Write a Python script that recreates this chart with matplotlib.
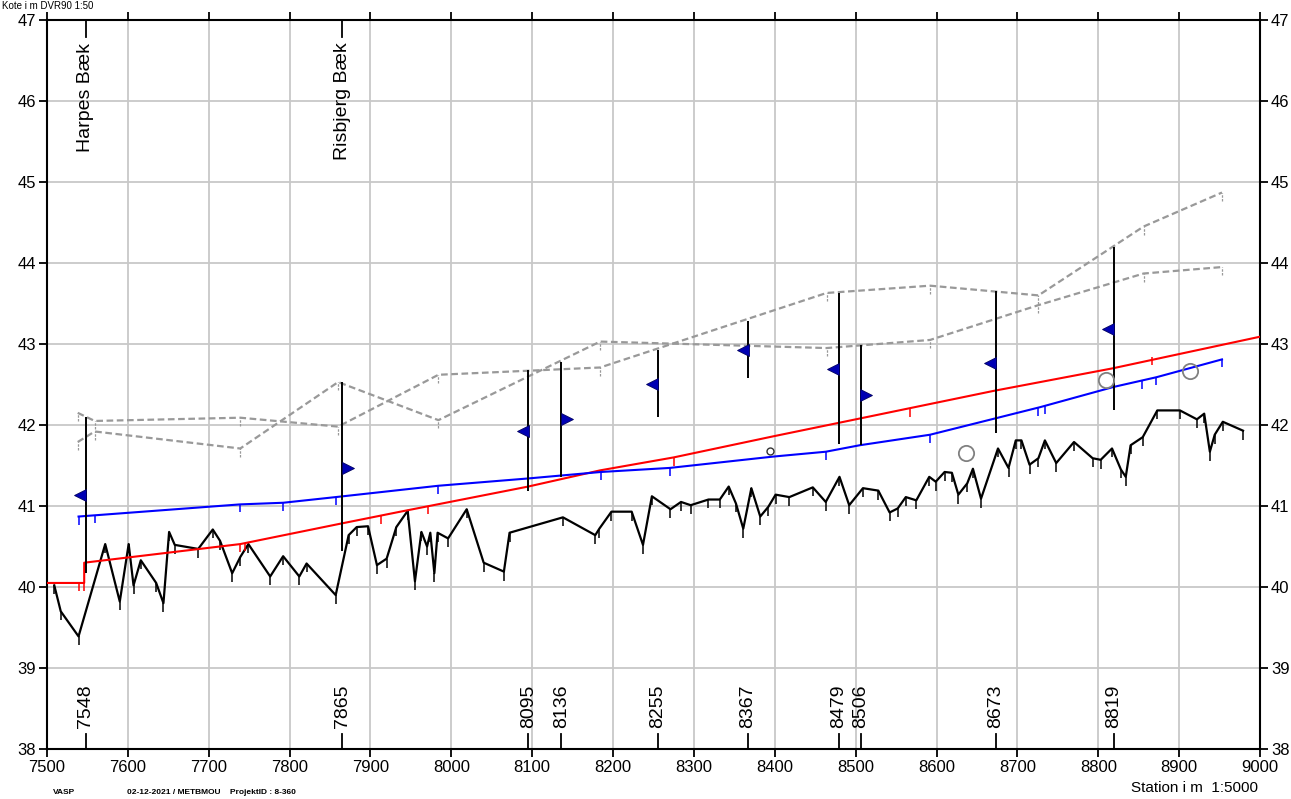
import numpy as np
import matplotlib.pyplot as plt
import matplotlib.transforms as mtransforms

plt.rcParams['font.family'] = ['Liberation Sans', 'DejaVu Sans']

# terraen (station, kote)
ground_s = [7509, 7517, 7539, 7572, 7590, 7601, 7607, 7616, 7635, 7644, 7651, 7658, 7687, 7705, 7714,
            7729, 7739, 7749, 7776, 7792, 7812, 7821, 7857, 7873, 7883, 7897, 7908, 7920, 7932, 7946,
            7955, 7963, 7970, 7974, 7979, 7983, 7996, 8019, 8040, 8065, 8072, 8138, 8178, 8183, 8198,
            8223, 8237, 8248, 8271, 8284, 8296, 8318, 8332, 8343, 8352, 8361, 8371, 8382, 8392, 8401,
            8418, 8447, 8463, 8480, 8492, 8509, 8528, 8542, 8552, 8562, 8575, 8591, 8599, 8610, 8619,
            8627, 8638, 8645, 8655, 8676, 8689, 8698, 8705, 8715, 8726, 8734, 8748, 8770, 8793, 8803,
            8817, 8828, 8834, 8840, 8855, 8873, 8901, 8922, 8931, 8938, 8944, 8954, 8979]
ground_z = [40.02, 39.70, 39.39, 40.53, 39.82, 40.53, 40.02, 40.33, 40.05, 39.80, 40.68, 40.52, 40.47, 40.71, 40.57,
            40.17, 40.37, 40.53, 40.13, 40.38, 40.13, 40.29, 39.90, 40.64, 40.74, 40.75, 40.27, 40.35, 40.74, 40.94,
            40.07, 40.68, 40.50, 40.67, 40.17, 40.67, 40.60, 40.96, 40.30, 40.19, 40.67, 40.86, 40.64, 40.72, 40.93,
            40.93, 40.52, 41.12, 40.96, 41.05, 41.01, 41.08, 41.08, 41.24, 41.03, 40.72, 41.22, 40.87, 40.99, 41.14,
            41.11, 41.23, 41.05, 41.36, 41.01, 41.22, 41.19, 40.92, 40.97, 41.11, 41.07, 41.36, 41.30, 41.42, 41.41,
            41.14, 41.28, 41.46, 41.09, 41.71, 41.47, 41.81, 41.81, 41.51, 41.59, 41.81, 41.53, 41.79, 41.59, 41.57,
            41.71, 41.45, 41.36, 41.75, 41.85, 42.18, 42.18, 42.07, 42.14, 41.67, 41.88, 42.04, 41.93]

# bundlinje (roed)
red_s = [7500, 7546, 7546, 7739, 7862, 7937, 8095, 8184, 8275, 8398, 8505, 8670, 8818, 9000]
red_z = [40.05, 40.05, 40.30, 40.53, 40.78, 40.93, 41.24, 41.44, 41.60, 41.86, 42.08, 42.42, 42.70, 43.09]
red_ticks = [7540, 7546, 7739, 7745, 7913, 7971, 8275, 8567, 8867]
red_tick_z = [40.05, 40.05, 40.53, 40.54, 40.88, 41.00, 41.60, 42.20, 42.84]

# vandspejl (blaa)
blue_s = [7539, 7739, 7792, 7857, 7984, 8095, 8185, 8270, 8398, 8463, 8505, 8592, 8672, 8728, 8819, 8872, 8953]
blue_z = [40.87, 41.02, 41.04, 41.11, 41.25, 41.34, 41.42, 41.47, 41.61, 41.67, 41.75, 41.88, 42.08, 42.22,
          42.47, 42.59, 42.81]
blue_ticks = [7539, 7559, 7739, 7792, 7857, 7984, 8185, 8270, 8463, 8592, 8726, 8734, 8854, 8872, 8953]

# graa stiplede linjer
gray_s = [7538, 7559, 7739, 7860, 7984, 8184, 8464, 8592, 8726, 8856, 8953]
gray_a = [42.15, 42.05, 42.09, 41.98, 42.62, 42.71, 43.63, 43.72, 43.60, 44.45, 44.87]
gray_b = [41.79, 41.92, 41.71, 42.53, 42.06, 43.03, 42.95, 43.05, 43.48, 43.87, 43.95]

# lodrette linjer med flag
struct_s = [7548, 7865, 8095, 8136, 8255, 8367, 8479, 8506, 8673, 8819]
struct_bot = [40.17, 40.44, 41.18, 41.36, 42.10, 42.58, 41.77, 41.75, 41.90, 42.19]
struct_top = [42.10, 42.53, 42.68, 42.78, 42.93, 43.29, 43.63, 42.99, 43.66, 44.20]
flag_z = [41.14, 41.47, 41.92, 42.07, 42.51, 42.93, 42.69, 42.37, 42.77, 43.19]
flag_dir = ['<', '>', '<', '>', '<', '<', '<', '>', '<', '<']

circle_s = [8637, 8810, 8913]
circle_z = [41.66, 42.56, 42.67]
small_circle_s = [8394]
small_circle_z = [41.68]

top_names = ['Harpes Bæk', 'Risbjerg Bæk']
top_s = [7548, 7865]

fig = plt.figure(figsize=(12.91, 7.99), dpi=100)
ax = fig.add_axes([47 / 1291, 50 / 799, (1260 - 47) / 1291, (749 - 20) / 799])

ax.set_xlim(7500, 9000)
ax.set_ylim(38, 47)
ax.set_xticks(np.arange(7500, 9001, 100))
ax.set_yticks(np.arange(38, 48, 1))
ax.grid(color='#c8c8c8', lw=1.3)
ax.set_axisbelow(True)
ax.tick_params(direction='out', top=True, right=True, labelright=True, length=6, width=1.3,
               labelsize=12, pad=2)
for sp in ax.spines.values():
    sp.set_linewidth(1.5)

# terraen med punkt-streger
ax.plot(ground_s, ground_z, color='black', lw=1.6, zorder=4)
ax.vlines(ground_s, np.array(ground_z) - 0.11, ground_z, color='black', lw=1.1, zorder=4)

# graa linjer
for g in (gray_a, gray_b):
    ax.plot(gray_s, g, color='#999999', lw=1.6, ls=(0, (3, 1.6)), zorder=3)
    ax.vlines(gray_s, np.array(g) - 0.1, g, color='#999999', lw=0.9, ls=(0, (2, 1)), zorder=3)

# roed linje
ax.plot(red_s, red_z, color='#ff0000', lw=1.5, zorder=5)
ax.vlines(red_ticks, np.array(red_tick_z) - 0.1, red_tick_z, color='#ff0000', lw=1.1, zorder=5)

# blaa linje
ax.plot(blue_s, blue_z, color='#0000ff', lw=1.5, zorder=5)
bt = np.interp(blue_ticks, blue_s, blue_z)
ax.vlines(blue_ticks, bt - 0.1, bt, color='#0000ff', lw=1.1, zorder=5)

# lodrette linjer og flag
ax.vlines(struct_s, struct_bot, struct_top, color='black', lw=1.4, zorder=6)
for s, z, d in zip(struct_s, flag_z, flag_dir):
    dx = -4 if d == '<' else 4
    tr = mtransforms.offset_copy(ax.transData, fig=fig, x=dx, y=0, units='points')
    ax.plot(s, z, marker=d, ms=8, color='#0000b4', mec='#000060', mew=0.6, transform=tr, zorder=7)

# cirkler
ax.plot(circle_s, circle_z, 'o', ms=11, mfc='none', mec='#808080', mew=1.3, zorder=6)
ax.plot(small_circle_s, small_circle_z, 'o', ms=5, mfc='none', mec='#333333', mew=1, zorder=6)

# navne foroven
for s, name in zip(top_s, top_names):
    ax.plot([s, s], [47, 46.79], color='black', lw=1.3, clip_on=False)
    ax.text(s, 46.72, name, rotation=90, ha='center', va='top', fontsize=14)

# stationsnumre forneden
for s in struct_s:
    ax.plot([s, s], [38, 38.19], color='black', lw=1.3, clip_on=False)
    ax.text(s, 38.26, str(s), rotation=90, ha='center', va='bottom', fontsize=14)

fig.text(1258 / 1291, 1 - 788 / 799, 'Station i m  1:5000', ha='right', va='center', fontsize=11)
fig.text(53 / 1291, 1 - 792 / 799, 'VASP', ha='left', va='center', fontsize=6, weight='bold')
fig.text(127 / 1291, 1 - 792 / 799, '02-12-2021 / METBMOU    ProjektID : 8-360', ha='left', va='center',
         fontsize=6, weight='bold')
fig.text(2 / 1291, 1 - 1 / 799, 'Kote i m DVR90 1:50', ha='left', va='top', fontsize=7)

fig.savefig('out.png', dpi=100)
